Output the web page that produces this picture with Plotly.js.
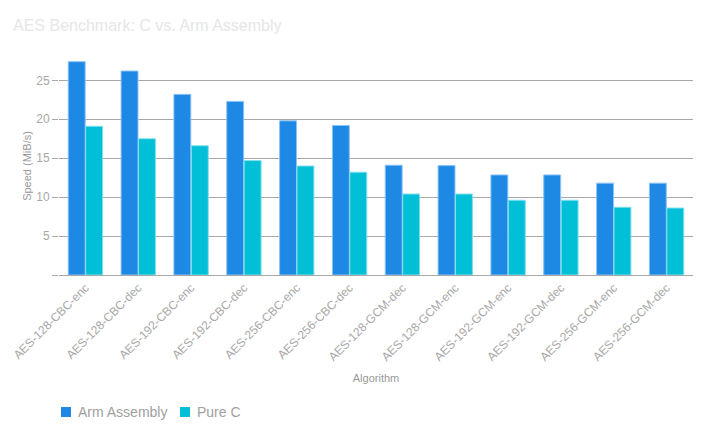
<!DOCTYPE html>
<html>
<head>
<meta charset="utf-8">
<script src="https://cdn.plot.ly/plotly-3.0.1.min.js"></script>
<style>html,body{margin:0;padding:0;background:#fff;}#chart{width:708px;height:435px;}</style>
</head>
<body>
<div id="chart"></div>
<script>
const algorithms = ["AES-128-CBC-enc","AES-128-CBC-dec","AES-192-CBC-enc","AES-192-CBC-dec","AES-256-CBC-enc","AES-256-CBC-dec","AES-128-GCM-dec","AES-128-GCM-enc","AES-192-GCM-enc","AES-192-GCM-dec","AES-256-GCM-enc","AES-256-GCM-dec"];
const armAssembly = [27.4, 26.2, 23.2, 22.3, 19.8, 19.2, 14.1, 14.05, 12.85, 12.85, 11.8, 11.8];
const pureC = [19.1, 17.5, 16.6, 14.7, 14.0, 13.2, 10.4, 10.4, 9.6, 9.6, 8.7, 8.6];
const seriesNames = ["Arm Assembly", "Pure C"];
const yTickVals = [0, 5, 10, 15, 20, 25];
const yTickText = ["", "5", "10", "15", "20", "25"];

const font = "Liberation Sans, Arial, Helvetica, sans-serif";
const colors = ["#1e88e5", "#00bfd6"];
const edgeColors = ["#8cc3f5", "#80e0ec"];
const traces = [
  {type: "bar", name: seriesNames[0], x: algorithms, y: armAssembly,
   marker: {color: colors[0], line: {color: edgeColors[0], width: 1}}},
  {type: "bar", name: seriesNames[1], x: algorithms, y: pureC,
   marker: {color: colors[1], line: {color: edgeColors[1], width: 1}}}
];

// custom legend (layout elements, paper coords)
const legendItems = [
  {sx0: 0.00315, sx1: 0.0189, tx: 0.0284},
  {sx0: 0.1909, sx1: 0.2066, tx: 0.2161}
];
const legY0 = -0.6514, legY1 = -0.6055, legTy = -0.6284;
const shapes = legendItems.map(function (it, i) {
  return {type: "rect", xref: "paper", yref: "paper", x0: it.sx0, x1: it.sx1, y0: legY0, y1: legY1,
          fillcolor: colors[i], line: {width: 0}, layer: "above"};
});
const annotations = legendItems.map(function (it, i) {
  return {text: seriesNames[i], xref: "paper", yref: "paper", x: it.tx, y: legTy,
          xanchor: "left", yanchor: "middle", showarrow: false, borderpad: 0,
          font: {size: 14, color: "#a0a0a0", family: font}};
});

const layout = {
  width: 708, height: 435,
  margin: {l: 59, r: 15, t: 57, b: 160},
  paper_bgcolor: "#fff", plot_bgcolor: "#fff",
  font: {family: font, color: "#a0a0a0"},
  title: {text: "AES Benchmark: C vs. Arm Assembly", x: 13 / 708, xref: "container", xanchor: "left",
          y: 1 - 25 / 435, yref: "container", yanchor: "middle", font: {size: 16, color: "#e6e6e6"}},
  bargap: 0.34, bargroupgap: 0.03,
  xaxis: {type: "category", tickangle: -45, tickfont: {size: 12, color: "#a8a8a8"},
          showline: true, linecolor: "#a8a8a8", linewidth: 1, ticks: "", showgrid: false,
          title: {text: "Algorithm", font: {size: 11, color: "#999"}, standoff: 11}},
  yaxis: {range: [0, 28], tickvals: yTickVals, ticktext: yTickText, ticks: "outside", ticklen: 6,
          tickcolor: "#a8a8a8", gridcolor: "#a8a8a8", gridwidth: 1, zeroline: false, showline: false,
          tickfont: {size: 12, color: "#a8a8a8"},
          title: {text: "Speed (MiB/s)", font: {size: 11, color: "#999"}, standoff: 2}},
  showlegend: false,
  shapes: shapes,
  annotations: annotations
};
Plotly.newPlot("chart", traces, layout, {displayModeBar: false, staticPlot: true});
</script>
</body>
</html>
